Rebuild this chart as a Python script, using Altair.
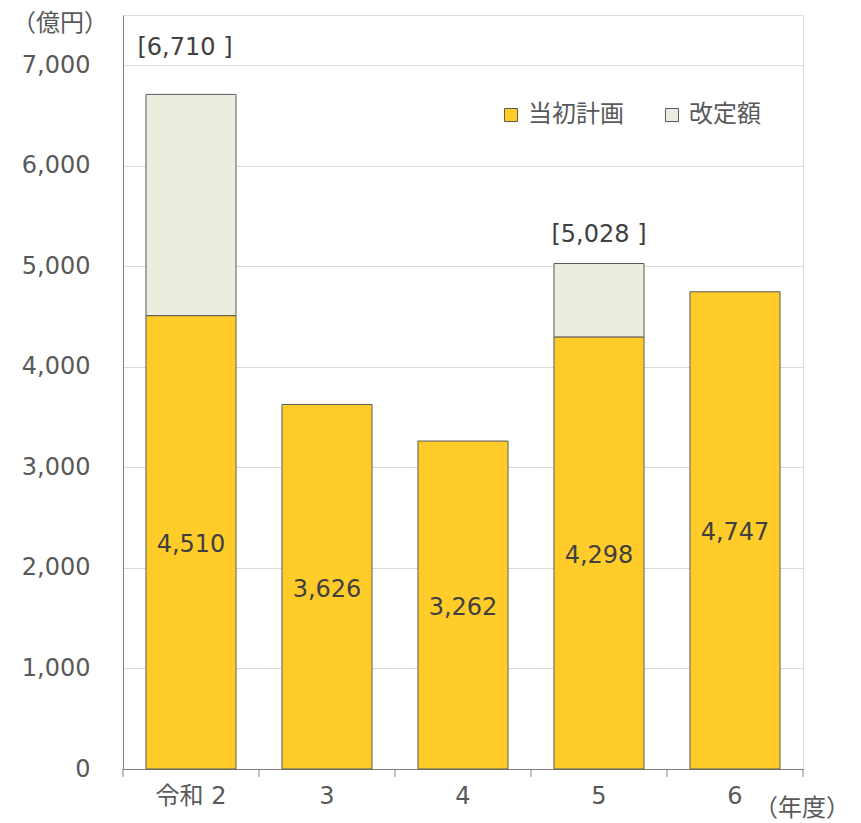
import altair as alt
import pandas as pd

years = ["令和 2", "3", "4", "5", "6"]
plan = [4510, 3626, 3262, 4298, 4747]
revision = [2200, 0, 0, 730, 0]
series_names = ["当初計画", "改定額"]
colors = ["#FFCC29", "#EBEEDE"]

FONT = "DejaVu Sans, Noto Sans CJK JP"
FS = 24
FSJ = 24

rows = []
for y, p, r in zip(years, plan, revision):
    rows.append({"year": y, "series": series_names[0], "value": p, "ord": 0})
    rows.append({"year": y, "series": series_names[1], "value": r, "ord": 1})
df = pd.DataFrame(rows)

tot = pd.DataFrame({"year": years, "plan": plan, "rev": revision})
tot["total"] = tot["plan"] + tot["rev"]
tot["mid"] = tot["plan"] / 2
tot["plan_lbl"] = [f"{v:,}" for v in plan]
tot["tot_lbl"] = [f"[{v:,} ]" for v in tot["total"]]

xscale = alt.Scale(domain=years, paddingInner=0.338, paddingOuter=0.169)
yscale = alt.Scale(domain=[0, 7500], nice=False)

base_x = alt.X("year:N", scale=xscale, sort=years,
               axis=alt.Axis(title=None, ticks=False, labelAngle=0, labelFontSize=FS,
                             labelColor="#595959", labelFont=FONT, labelPadding=27,
                             domainColor="#7F7F7F", labelBaseline="middle"))

bars = alt.Chart(df).transform_filter("datum.value > 0").mark_bar(
    stroke="#595959", strokeWidth=1
).encode(
    x=base_x,
    y=alt.Y("sum(value):Q", scale=yscale, stack="zero",
            axis=alt.Axis(title=None, values=[0, 1000, 2000, 3000, 4000, 5000, 6000, 7000],
                          format=",.0f", ticks=False, labelFontSize=FS, labelColor="#595959",
                          labelFont=FONT, labelPadding=33, gridColor="#D9D9D9",
                          domainColor="#7F7F7F")),
    color=alt.Color("series:N", scale=alt.Scale(domain=series_names, range=colors),
                    legend=alt.Legend(title=None, orient="none", legendX=376, legendY=88,
                                      direction="horizontal", symbolType="square",
                                      symbolSize=170, symbolStrokeColor="#595959",
                                      symbolStrokeWidth=1, labelFontSize=FSJ,
                                      labelFont=FONT, labelColor="#595959",
                                      labelOffset=5, columnPadding=36,
                                      labelExpr="datum.label == '改定額' ? '\u2009' + datum.label : datum.label")),
    order=alt.Order("ord:Q"),
)

tb = alt.Chart(tot)
plan_lbl = tb.mark_text(fontSize=FS, font=FONT, color="#404040", dy=3).encode(
    x=alt.X("year:N", scale=xscale, sort=years),
    y=alt.Y("mid:Q", scale=yscale),
    text="plan_lbl:N",
)
tot_lbl1 = tb.transform_filter(alt.datum.year == years[0]).mark_text(
    fontSize=FS, font=FONT, color="#404040", dy=-46, dx=-6).encode(
    x=alt.X("year:N", scale=xscale, sort=years),
    y=alt.Y("total:Q", scale=yscale),
    text="tot_lbl:N",
)
tot_lbl2 = tb.transform_filter(alt.datum.year == years[3]).mark_text(
    fontSize=FS, font=FONT, color="#404040", dy=-29).encode(
    x=alt.X("year:N", scale=xscale, sort=years),
    y=alt.Y("total:Q", scale=yscale),
    text="tot_lbl:N",
)
ticks_start = tb.mark_rule(color="#7F7F7F", xOffset=-23).encode(
    x=alt.X("year:N", scale=xscale, sort=years, bandPosition=0),
    y=alt.value(754), y2=alt.value(762),
)
ticks_end = tb.transform_filter(alt.datum.year == years[-1]).mark_rule(
    color="#7F7F7F", xOffset=23).encode(
    x=alt.X("year:N", scale=xscale, sort=years, bandPosition=1),
    y=alt.value(754), y2=alt.value(762),
)
unit_y = alt.Chart(pd.DataFrame({"t": ["（億円）"]})).mark_text(
    fontSize=FSJ, font=FONT, color="#595959").encode(
    x=alt.value(-63), y=alt.value(9), text="t:N")
unit_x = alt.Chart(pd.DataFrame({"t": ["（年度）"]})).mark_text(
    fontSize=FS, font=FONT, color="#595959").encode(
    x=alt.value(679), y=alt.value(794), text="t:N")

chart = alt.layer(bars, plan_lbl, tot_lbl1, tot_lbl2, ticks_start, ticks_end, unit_y, unit_x).properties(
    width=680, height=754,
    autosize=alt.AutoSizeParams(type="none"),
    padding={"left": 123, "top": 15, "right": 58, "bottom": 54},
).configure_view(stroke="#A6A6A6", strokeWidth=1).configure(background="white")

chart.save("out.html", embed_options={"renderer": "svg", "actions": False})
